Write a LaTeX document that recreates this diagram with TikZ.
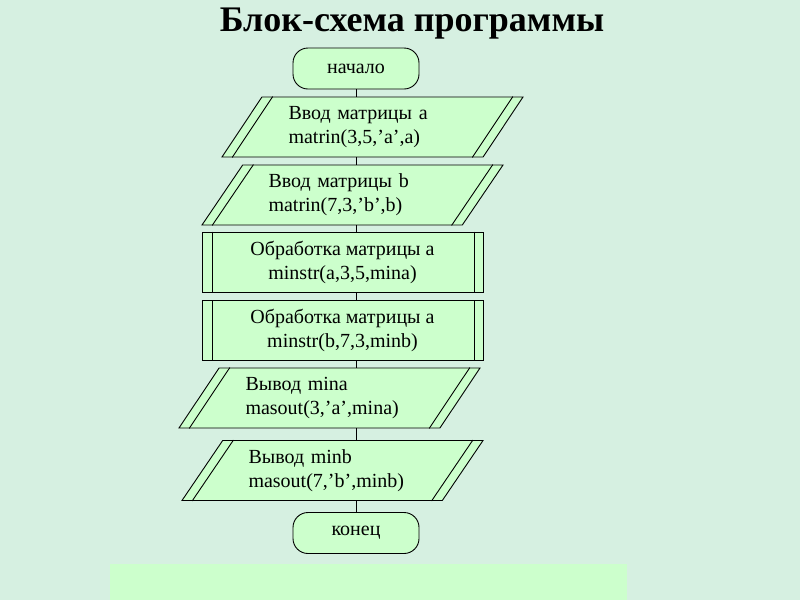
\documentclass[tikz,border=0pt]{standalone}
\usepackage{fontspec}
\setmainfont{Liberation Serif}
\usetikzlibrary{shapes.geometric,calc}
\definecolor{backmint}{HTML}{D6F0E1}
\definecolor{boxgreen}{HTML}{CCFFCC}
\newcommand{\clrback}{backmint}
\newcommand{\clrbox}{boxgreen}
\newcommand{\slantgap}{11}

\begin{document}
\begin{tikzpicture}[x=1pt,y=-1pt,line width=0.9pt,
    font=\fontsize{20}{24}\selectfont,
    term/.style={draw,fill=\clrbox,rounded corners=15pt,minimum width=126pt,minimum height=41pt,inner sep=0pt},
    iobox/.style={draw,fill=\clrbox,trapezium,trapezium left angle=46,trapezium right angle=134,
        trapezium stretches body,minimum width=301pt,minimum height=60pt,inner sep=0pt,
        text width=168pt,align=left},
    procbox/.style={draw,fill=\clrbox,rectangle,minimum width=281pt,minimum height=60pt,inner sep=0pt,align=center}]

    \useasboundingbox (0,0) rectangle (800,600);
    \fill[\clrback] (0,0) rectangle (800,600);
%footer
    \fill[\clrbox] (110,564) rectangle (627,600);

%title
    \node (title) [anchor=base,font=\fontsize{36}{42}\selectfont\bfseries] at (412,31) {Блок-схема программы};

%%%%        Blocks
    \node (start) [term] at (356,68.5) {начало};
    \node (p1) [iobox] at (372.5,127) {Ввод матрицы а\\matrin(3,5,’a’,a)};
    \node (p2) [iobox] at (352.5,195) {Ввод матрицы b\\matrin(7,3,’b’,b)};
    \node (pp1) [procbox] at (342.5,262) {Обработка матрицы а\\minstr(a,3,5,mina)};
    \node (pp2) [procbox] at (342.5,330.5) {Обработка матрицы а\\minstr(b,7,3,minb)};
    \node (p3) [iobox] at (329.5,398) {Вывод mina\\masout(3,’a’,mina)};
    \node (p4) [iobox] at (332.5,470.5) {Вывод minb\\masout(7,’b’,minb)};
    \node (stop) [term] at (356,533) {конец};

%double sides
    \foreach\n in {p1,p2,p3,p4} {
        \draw ($(\n.bottom left corner)+(\slantgap,0)$) -- ($(\n.top left corner)+(\slantgap,0)$);
        \draw ($(\n.bottom right corner)-(\slantgap,0)$) -- ($(\n.top right corner)-(\slantgap,0)$);
    }
    \foreach\n in {pp1,pp2} {
        \draw ($(\n.north west)+(11,0)$) -- ($(\n.south west)+(11,0)$);
        \draw ($(\n.north east)-(9,0)$) -- ($(\n.south east)-(9,0)$);
    }

%%%%        Edges
    \foreach\v/\w in {start/p1,p1/p2,p2/pp1,pp1/pp2,pp2/p3,p3/p4,p4/stop}
    {
        \draw (\v.south -| start) -- (\w.north -| start);
    }
\end{tikzpicture}
\end{document}
